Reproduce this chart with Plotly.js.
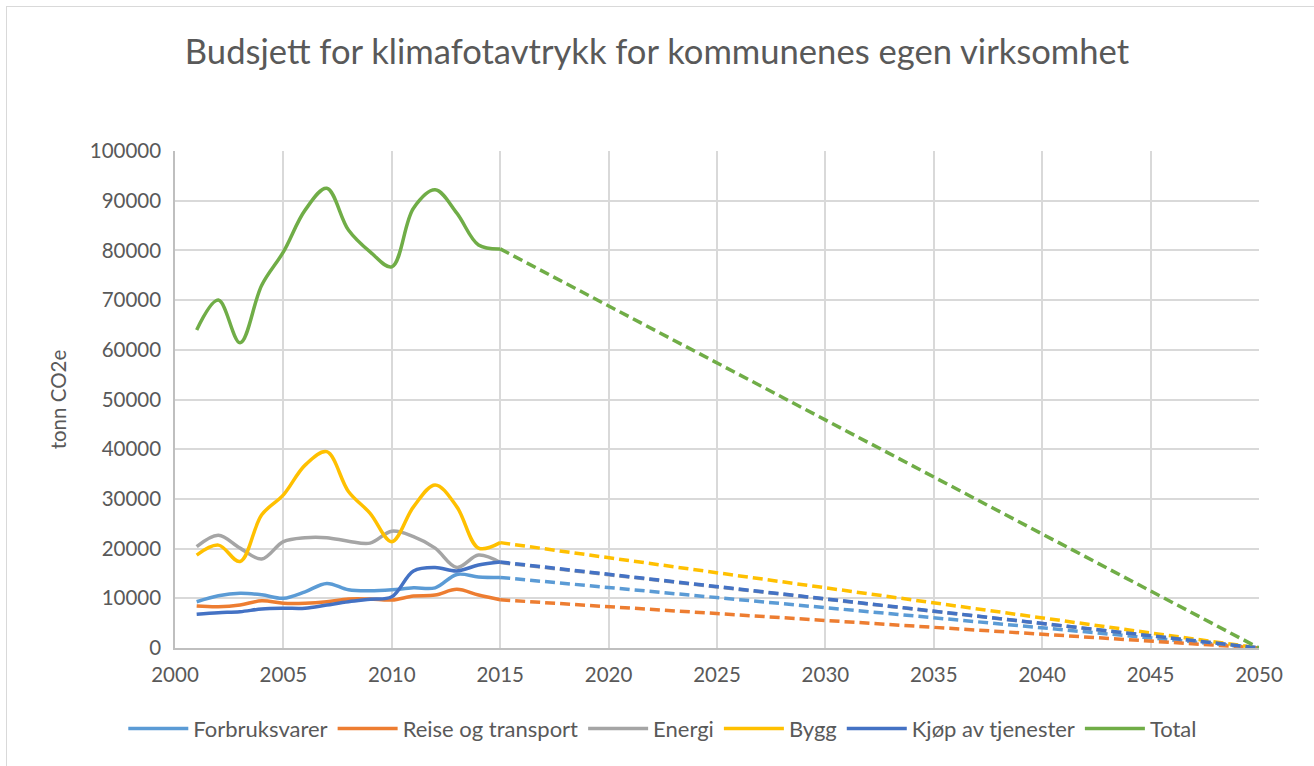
<!DOCTYPE html>
<html>
<head>
<meta charset="utf-8">
<script src="https://cdn.plot.ly/plotly-3.0.1.min.js"></script>
<style>
  html, body { margin: 0; padding: 0; background: #fff; overflow: hidden; }
  #frame { position: absolute; left: 6px; top: 6px; width: 1330px; height: 790px; border: 1px solid #d9d9d9; box-sizing: border-box; }
  #chart { position: absolute; left: 0; top: 0; width: 1314px; height: 766px; }
</style>
</head>
<body>
<div id="frame"></div>
<div id="chart"></div>
<script>
// ---- Data ----
const years = [2001, 2002, 2003, 2004, 2005, 2006, 2007, 2008, 2009, 2010, 2011, 2012, 2013, 2014, 2015];
const forbruksvarer   = [9300, 10500, 11000, 10700, 10000, 11300, 13000, 11700, 11500, 11700, 12100, 12100, 14800, 14300, 14200];
const reiseTransport  = [8450, 8300, 8650, 9500, 9000, 9000, 9300, 9850, 9850, 9650, 10450, 10650, 11800, 10650, 9700];
const energi          = [20400, 22700, 20100, 17900, 21400, 22200, 22200, 21500, 21100, 23500, 22400, 20100, 16200, 18700, 17200];
const bygg            = [18700, 20700, 17400, 26800, 30800, 36800, 39500, 31500, 27100, 21400, 28400, 32800, 28400, 20100, 21200];
const kjopTjenester   = [6800, 7100, 7300, 7850, 8000, 8000, 8650, 9300, 9800, 10300, 15500, 16200, 15500, 16700, 17300];
const total           = [64000, 70000, 61400, 73000, 79700, 88100, 92500, 84100, 79700, 76700, 88500, 92200, 87500, 81100, 80300];

const projYears = [2015, 2050];
const target2050 = 0;

const seriesNames  = ["Forbruksvarer", "Reise og transport", "Energi", "Bygg", "Kjøp av tjenester", "Total"];
const seriesValues = [forbruksvarer, reiseTransport, energi, bygg, kjopTjenester, total];
const seriesColors = ["#5b9bd5", "#ed7d31", "#a5a5a5", "#ffc000", "#4472c4", "#70ad47"];

const xTickVals = [2000, 2005, 2010, 2015, 2020, 2025, 2030, 2035, 2040, 2045, 2050];
const yTickVals = [0, 10000, 20000, 30000, 40000, 50000, 60000, 70000, 80000, 90000, 100000];

const titleText = "Budsjett for klimafotavtrykk for kommunenes egen virksomhet";
const yTitleText = "tonn CO2e";

// ---- Traces ----
const FONT = "Lato, 'Open Sans', sans-serif";
const traces = [];
seriesNames.forEach((name, i) => {
  traces.push({
    x: years, y: seriesValues[i], name: name, type: "scatter", mode: "lines",
    line: { color: seriesColors[i], width: 3.5, shape: "spline", smoothing: 1 },
    hoverinfo: "x+y+name"
  });
});
seriesNames.forEach((name, i) => {
  const v = seriesValues[i];
  traces.push({
    x: projYears, y: [v[v.length - 1], target2050], name: name + " (budsjett)", type: "scatter", mode: "lines",
    line: { color: seriesColors[i], width: 3.5, dash: "10px,5px" },
    showlegend: false
  });
});

const layout = {
  width: 1314, height: 766,
  paper_bgcolor: "rgba(0,0,0,0)", plot_bgcolor: "#fff",
  margin: { l: 175, r: 55, t: 151, b: 118 },
  font: { family: FONT, color: "#595959", size: 20 },
  title: { text: titleText, font: { family: FONT, size: 34.6, color: "#595959" }, x: 0.5, xanchor: "center", y: 0.932, yanchor: "middle" },
  xaxis: {
    range: [2000, 2050], tickvals: xTickVals, ticks: "", showline: true, linecolor: "#bfbfbf", linewidth: 1.5,
    showgrid: true, gridcolor: "#d9d9d9", gridwidth: 1.5, zeroline: false,
    tickfont: { family: FONT, size: 20.5, color: "#595959" }, ticklabelstandoff: 8, fixedrange: true
  },
  yaxis: {
    range: [0, 100000], tickvals: yTickVals, tickformat: "d", ticks: "", showline: true, linecolor: "#bfbfbf", linewidth: 1.5,
    showgrid: true, gridcolor: "#d9d9d9", gridwidth: 1.5, zeroline: false,
    tickfont: { family: FONT, size: 20.5, color: "#595959" }, ticklabelstandoff: 8,
    title: { text: yTitleText, font: { family: FONT, size: 20.5, color: "#595959" }, standoff: 18 }, fixedrange: true
  },
  showlegend: true,
  legend: {
    orientation: "h", x: 0.45, xanchor: "center", y: -0.12, yanchor: "top",
    font: { family: FONT, size: 22, color: "#595959" }, itemwidth: 60, tracegroupgap: 0, bgcolor: "rgba(0,0,0,0)"
  }
};

Plotly.newPlot("chart", traces, layout, { displayModeBar: false, staticPlot: false });
</script>
</body>
</html>
